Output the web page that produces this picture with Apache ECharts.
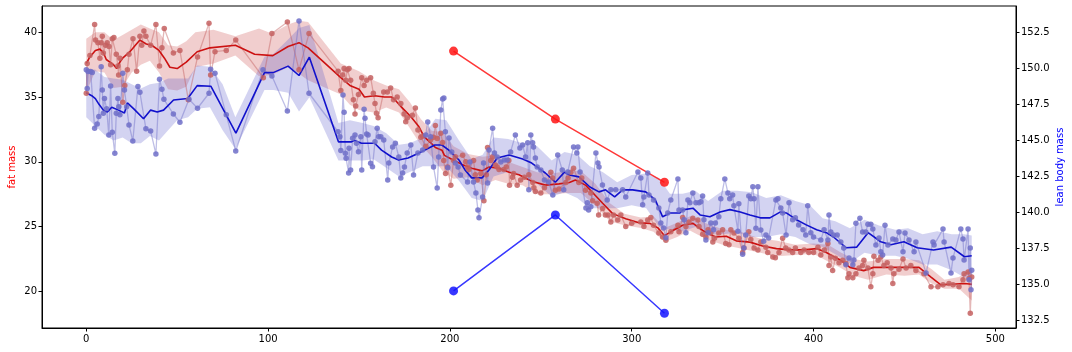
<!DOCTYPE html>
<html><head><meta charset="utf-8">
<script src="https://cdn.jsdelivr.net/npm/echarts@6/dist/echarts.min.js"></script>
<style>html,body{margin:0;padding:0;background:#fff}#c{width:1072px;height:352px}</style>
</head><body><div id="c"></div>
<script>
// ---- data: [day, value] ----
const fatRaw = [[0,35.3],[0.5,37.6],[2,38.2],[4.6,40.6],[5.1,39.4],[6.4,39.2],[7.5,38.0],[8.2,39.2],[8.8,39.7],[9.4,38.4],[10.6,39.0],[11.5,39.2],[12.5,38.9],[13.4,37.5],[14.3,39.5],[15.2,39.6],[16.5,38.3],[17.4,37.4],[17.8,36.7],[18.5,38.0],[20.1,34.6],[21.2,35.9],[22.6,37.1],[23.5,38.3],[25.7,39.5],[27.7,37.0],[29.5,39.7],[30.5,39.0],[31.7,40.1],[32.8,39.7],[35.4,39.0],[38.3,40.6],[40.3,37.4],[41.6,38.8],[42.9,40.3],[47.9,38.4],[51.5,38.6],[56.1,34.8],[61.2,38.1],[67.5,40.7],[68.4,36.7],[70.8,38.5],[77,38.6],[82.2,39.4],[97.4,36.5],[102.1,39.9],[110.6,40.8],[117,37.1],[122.5,39.9],[138.5,37.0],[140,35.5],[140.9,36.7],[141.8,37.2],[142.7,36.3],[143.6,37.1],[144.5,37.2],[145.4,36.3],[146.9,34.8],[147.8,33.7],[148.2,34.3],[149.7,35.2],[151.5,36.5],[152.8,35.9],[154.2,36.3],[156.4,36.5],[157.9,35.3],[158.8,34.5],[159.6,33.75],[160.5,33.4],[163.6,35.4],[165.6,35.4],[167.4,35.7],[169,34.8],[171,35.0],[173,34.5],[174.8,33.7],[175.7,33.1],[176.6,33.4],[179.4,33.6],[181,34.15],[182.4,32.45],[184,31.9],[185,32.0],[186.8,31.2],[189.4,31.7],[191,31.9],[192,32.8],[193,31.8],[195,32.2],[196,31.5],[196.6,30.1],[197.6,29.1],[198.7,29.6],[200.5,28.2],[202,30.1],[203,30.4],[207,30.5],[208.7,30.0],[209.7,29.6],[210.4,29.4],[213,30.1],[214,29.0],[215,28.6],[217,29.1],[218.7,27.0],[220,29.0],[220.7,31.1],[222.5,30.1],[223.5,30.4],[225,29.75],[226,29.6],[227,29.4],[229.6,29.4],[231,29.6],[232.4,30.1],[232.8,28.2],[234.4,28.8],[235,29.1],[237,28.2],[238.9,28.6],[241,28.8],[243.4,29.0],[245.6,28.4],[246.2,28.0],[247,27.7],[250,27.6],[252,28.0],[255.5,29.2],[256.5,28.75],[258,27.8],[260,27.9],[263.8,28.4],[265,28.75],[266.5,29.2],[268,29.5],[270.9,28.4],[272.5,28.75],[274.6,27.8],[277.5,27.6],[278.5,27.0],[281,26.8],[281.8,25.9],[284,26.4],[285.5,25.9],[287,25.9],[288.5,25.35],[290,25.9],[292.3,25.5],[294,25.9],[296.7,25.0],[300,25.25],[305,25.35],[306.7,25.0],[308.8,25.5],[310.5,25.7],[312,25.1],[314.9,24.5],[317,24.2],[318.8,23.95],[321.5,24.6],[325.4,25.1],[326,24.6],[328,25.7],[329.8,25.0],[331.5,25.35],[333.6,25.65],[336.4,25.5],[337,25.0],[339,24.4],[340.8,24.2],[342,24.75],[343.5,24.5],[344.6,23.8],[345.5,24.1],[347.9,24.5],[350,24.75],[351.7,23.7],[353.5,23.6],[354.5,24.75],[356.2,24.5],[358.9,24.1],[361,23.0],[361.7,23.35],[364.4,24.6],[365.5,24.0],[367.3,23.35],[369.4,23.2],[371,23.8],[373.8,23.4],[374.8,23.0],[377.6,22.65],[379,22.6],[381,23.0],[383,24.1],[384.7,23.35],[386.5,23.2],[388.5,23.0],[390,23.35],[393,23.0],[394.8,23.2],[397.4,23.0],[400,23.0],[402.4,23.4],[404,22.8],[406,23.2],[407.9,23.7],[408.5,22.0],[409.5,22.65],[410.5,21.6],[412,22.55],[414,22.2],[416,22.4],[417.8,22.15],[418.9,21.05],[419.5,21.35],[421.6,21.05],[423.3,21.35],[425,21.8],[427,22.0],[427.7,22.4],[429.9,21.8],[431.5,20.35],[432.6,21.35],[433.2,22.7],[435.5,22.4],[437,22.65],[438.7,22.0],[440.5,22.2],[442.6,21.8],[443.6,20.6],[444.2,21.35],[447,21.7],[449.2,22.5],[450.9,21.8],[453.5,22.0],[456.3,21.6],[460.7,21.35],[464.6,20.35],[468.4,20.35],[471.2,20.5],[474.5,20.6],[476.7,20.5],[480,20.35],[482.2,20.9],[482.8,21.35],[485,21.5],[485.5,21.0],[486.2,18.3],[487,21.1]];

const leanRaw = [[0,149.9],[0.5,148.6],[1,149.77],[2.4,149.77],[3.3,149.7],[4.6,145.84],[6,146.14],[6.9,146.65],[8.2,150.1],[8.8,148.5],[9.4,146.88],[10,147.9],[11.2,147.2],[12.4,145.38],[13.4,148.78],[14.3,145.57],[15.7,144.1],[16.5,146.88],[17.4,147.9],[17.9,147.34],[18.5,146.77],[20.1,149.66],[21,148.5],[22.2,147.34],[23.5,146.07],[25.6,144.96],[28.4,148.73],[29.5,148.34],[32.8,145.8],[35.4,145.65],[38.3,144.06],[40.3,149.24],[41.6,148.55],[42.7,147.85],[47.9,146.83],[51.5,146.26],[56.5,147.85],[61.2,147.23],[67.5,148.27],[68.4,149.93],[70.8,149.66],[77,146.77],[82.2,144.27],[97.2,149.9],[102.1,149.47],[110.6,147.04],[117,153.28],[122.5,148.27],[138.5,145.6],[139.5,145.26],[140,144.3],[141.2,148.15],[141.8,146.95],[142.5,144.1],[142.9,143.76],[144.3,142.74],[144.5,144.46],[145.4,142.95],[146.5,145.15],[147.8,145.38],[148.6,144.8],[149.7,144.22],[151,145.26],[151.5,142.95],[152.8,147.16],[153.3,146.54],[154.2,145.45],[155,145.38],[156.4,143.42],[157.4,143.18],[158.8,144.9],[160,145.85],[160.8,145.26],[162,145.26],[163.6,145.03],[165.8,142.26],[166.4,143.43],[168.5,144.55],[170,144.8],[171.9,143.85],[173,142.4],[174,142.74],[175,143.16],[176.5,144.13],[178.5,144.68],[180,142.6],[182.4,144.13],[185,144.34],[186.7,145.38],[187.8,146.28],[189.4,145.26],[191,143.16],[193,141.7],[193.8,143.85],[195,147.1],[196,147.87],[196.7,147.94],[197.5,145.6],[198.8,143.1],[199.5,145.17],[201,144.2],[203,143.43],[204.5,143.16],[205.8,142.6],[209.7,142.12],[211,143.5],[213,142.12],[214.3,141.36],[215.4,140.18],[216,139.63],[218,141.08],[218.5,143.43],[220.7,142.05],[221.5,144.34],[223.5,145.85],[224.5,144.13],[226,143.85],[228,143.5],[230,143.64],[231.5,143.64],[233.4,144.2],[236,145.38],[238.5,144.48],[240,144.68],[241.6,143.85],[242.8,144.83],[243.4,141.57],[244.5,145.38],[245.5,144.83],[246,144.55],[247,143.78],[248,143.16],[250,142.95],[252,142.26],[254.3,142.12],[256.6,141.22],[259.3,143.99],[261.8,142.95],[262.6,141.57],[264.8,142.81],[268,144.55],[269.8,144.13],[270.4,144.55],[271.6,142.81],[274.8,140.32],[275.6,140.67],[276.3,140.18],[277.5,140.39],[280.3,144.13],[281.4,143.43],[282,143.16],[283.9,141.91],[286.5,140.87],[288.5,141.57],[291.2,141.57],[295,141.57],[296.7,141.08],[303.4,142.81],[305,142.4],[306,140.53],[306.7,141.08],[308.8,142.74],[309.5,141.22],[312,140.87],[314.9,140.32],[316,139.28],[317.5,138.93],[318.8,138.24],[319.8,139.97],[321.5,140.87],[325.4,142.33],[326,140.18],[328,140.18],[328.8,139.5],[329.8,138.6],[330.9,140.87],[332,140.67],[333.6,141.36],[335.3,140.67],[337,140.67],[338,140.74],[339,141.15],[339.7,139.5],[340.8,138.1],[342,138.6],[343.5,139.28],[345,138.8],[346,139.28],[347.9,139.7],[349,140.95],[351.2,142.33],[352.9,141.36],[353.9,140.95],[355.5,141.22],[356.2,140.46],[358.4,138.7],[358.9,140.6],[361,137.1],[361.7,137.54],[362.7,138.44],[364.4,141.15],[365.5,140.95],[366.6,141.78],[367.3,140.95],[368.3,138.9],[369.4,141.78],[371,138.78],[372.6,138.0],[373.8,138.44],[375.3,138.23],[379.3,140.87],[380.4,140.95],[382,140.32],[383,139.97],[384.9,138.44],[386.5,140.67],[388.5,139.5],[390,139.63],[391.8,139.14],[394.2,138.8],[395.7,138.44],[396.8,140.46],[398.5,138.6],[400,138.3],[404,138.1],[405.8,138.8],[407.9,138.1],[408.5,139.83],[409.5,138.64],[411,138.44],[413,138.44],[415,137.96],[416.6,137.54],[417.8,136.37],[419.5,136.85],[421.6,136.37],[422.2,136.7],[423.3,139.26],[425.5,139.6],[427,138.64],[428.7,138.64],[429.9,139.19],[431.5,139.19],[432.6,138.85],[434.3,137.75],[436,138.23],[437,137.27],[438,137.06],[439.3,139.12],[440.9,137.75],[443.6,138.16],[445.3,138.1],[447,138.64],[449.2,137.27],[450.3,138.57],[452.5,138.1],[455.3,137.27],[456.3,137.96],[461.9,135.81],[465.7,137.96],[466.3,137.75],[471.2,138.85],[471.8,137.96],[475.6,135.81],[476.7,136.85],[481,138.85],[482.2,138.16],[482.8,136.7],[485,138.85],[485.5,135.34],[486.2,137.54],[486.6,134.64],[487,136.0]];

const fatMean = [[0,37.6],[2,38.1],[5,38.6],[7.5,38.7],[9.5,38.4],[11,37.9],[13,37.7],[15,37.5],[16.7,37.2],[18,37.6],[20,38.0],[24,38.5],[27,39.0],[29.5,39.4],[33,39.1],[36,39.0],[40,38.6],[43,38.0],[46,37.3],[50,37.2],[55,37.7],[61,38.5],[68,38.8],[82,39.0],[92.6,38.3],[102.6,38.2],[111,38.9],[117,39.2],[122,38.8],[140,36.5],[145,35.9],[150,35.6],[153,35.0],[158.6,35.1],[164,35.0],[168,35.0],[170,34.75],[173.5,34.2],[177,33.7],[179,33.4],[183,32.7],[184.5,32.3],[186,31.9],[190,31.4],[192,31.1],[195.6,30.9],[197,30.5],[201,30.2],[206.6,29.8],[212,29.5],[217.7,29.3],[221.5,29.6],[227,29.5],[232.6,29.2],[238,29.0],[245,28.5],[252.5,28.2],[260,28.3],[265.7,28.4],[269,28.6],[274.6,28.2],[280,27.4],[284,26.8],[289.5,26.0],[296.7,25.6],[304,25.3],[310,25.25],[314.4,24.9],[318,24.3],[322.7,24.7],[328,25.1],[333.7,25.25],[339,24.7],[346,24.2],[352,24.25],[357.5,23.9],[365,23.8],[372,23.5],[379.6,23.3],[387,23.2],[394.5,23.2],[401.7,23.3],[407,23.0],[411,22.7],[415,22.4],[420,21.85],[427.6,21.6],[433,21.85],[438.7,21.85],[448,21.85],[458,21.85],[464.6,21.1],[470,20.5],[475.7,20.55],[483,20.6],[487,20.55]];

const leanMean = [[0,148.3],[3,148.1],[5,147.9],[7,147.5],[9.4,147.1],[11.6,146.97],[14,147.3],[17.7,147.1],[21,146.9],[22.6,147.6],[26,147.2],[31.5,146.5],[35.4,147.1],[39,146.97],[42.5,147.1],[48,147.8],[55.8,147.9],[61,148.8],[68.5,148.76],[82.3,145.5],[98,149.7],[102.8,149.7],[111,150.15],[117,149.5],[122.7,150.77],[138.7,144.9],[145.9,144.9],[147.5,145.0],[151.4,144.8],[158.6,144.8],[162.4,144.33],[168,143.85],[171.8,143.64],[177,143.78],[183,144.13],[188.4,144.47],[191.7,144.68],[195.6,144.68],[199.4,144.33],[205,143.64],[208.3,142.95],[212,142.4],[217.7,142.4],[221.5,142.95],[226,143.78],[232.6,143.99],[240,143.71],[245,143.43],[252.5,142.74],[258,142.1],[263,142.8],[265.7,142.6],[271,142.47],[277,141.77],[282,141.43],[285.6,141.57],[290.6,141.08],[295,141.57],[300.5,141.57],[307.7,141.43],[313,140.87],[317,139.7],[321,139.97],[326.5,139.97],[328,140.18],[333.7,140.3],[337.6,139.83],[343,139.7],[348.6,140.04],[354,140.2],[359.7,140.04],[365,139.83],[370.7,139.63],[376,139.63],[381.8,140.04],[385,139.97],[390.6,139.5],[396,139.14],[401.7,138.8],[407,138.6],[411,138.3],[418,137.55],[423.8,137.6],[430,138.6],[437,137.97],[442.5,137.76],[449.7,137.97],[457,137.55],[466,137.4],[475.7,137.6],[483,136.93],[487,137.0]];

// [day, lower, upper]
const fatBand = [[0,35.4,39.5],[5,37.0,40.0],[10,36.9,40.0],[15,35.7,39.4],[20,35.8,39.8],[25,36.9,40.2],[30,37.5,40.6],[35,37.8,40.3],[40,36.9,40.0],[45,35.6,39.0],[50,35.5,38.9],[55,35.8,39.3],[60,37.3,40.0],[70,37.6,40.2],[82,38.2,39.7],[95,36.6,40.3],[102,36.7,39.9],[111,37.3,40.6],[117,36.8,40.9],[122,36.3,40.8],[140,35.2,37.6],[145,34.4,37.3],[150,34.0,37.0],[158,33.8,36.3],[165,34.2,35.9],[172,33.8,35.6],[178,32.6,34.6],[184,31.3,33.3],[190,30.4,32.4],[196,29.3,32.3],[202,28.7,31.2],[210,28.8,30.6],[218,28.2,30.4],[225,28.6,30.5],[232,28.3,30.0],[240,28.2,29.6],[248,27.5,29.2],[256,27.5,29.1],[265,27.6,29.3],[272,27.6,29.3],[280,26.6,28.3],[288,25.4,26.8],[296,25.1,26.0],[305,24.9,25.7],[312,24.6,25.8],[318,23.8,24.9],[325,24.2,25.3],[332,24.7,25.8],[340,24.1,25.3],[350,23.6,24.8],[360,23.3,24.6],[370,23.0,24.1],[380,22.7,23.9],[390,22.8,23.6],[400,22.9,23.7],[408,22.3,23.6],[415,21.8,23.0],[422,21.2,22.5],[430,20.9,22.3],[440,21.3,22.5],[450,21.2,22.5],[458,21.3,22.4],[465,20.6,21.7],[472,20.2,20.9],[480,20.2,21.1],[487,19.3,21.8]];

const leanBand = [[0,146.6,150.0],[5,146.0,149.9],[10,145.4,149.4],[15,145.0,149.3],[20,145.2,149.2],[25,144.8,148.9],[30,144.8,148.6],[35,145.3,148.9],[40,145.0,149.0],[45,145.7,149.3],[50,146.4,149.3],[56,146.6,149.3],[61,147.2,150.2],[68,147.3,150.1],[75,145.7,148.9],[82,144.4,146.6],[98,148.5,150.8],[103,148.5,151.0],[111,148.3,152.0],[117,147.0,152.8],[122.7,148.0,153.0],[138.7,143.6,146.2],[145,143.6,146.4],[152,143.6,146.2],[158,143.7,146.0],[165,143.1,145.5],[172,142.5,144.7],[178,142.8,144.8],[185,143.2,145.2],[192,143.2,146.5],[198,143.2,146.4],[205,142.2,145.0],[212,141.0,143.7],[218,140.8,144.0],[224,142.5,145.2],[232,142.8,145.1],[240,142.6,144.8],[248,142.0,144.6],[256,141.1,143.6],[263,141.4,144.2],[270,141.0,144.0],[277,140.3,143.2],[284,140.3,142.8],[292,140.3,142.1],[300,140.5,142.6],[308,140.3,142.7],[315,139.0,142.4],[321,138.8,141.3],[328,138.7,141.3],[335,139.0,141.5],[342,138.5,140.8],[350,138.5,141.5],[358,138.6,141.5],[366,138.3,141.4],[374,138.3,141.0],[382,138.5,141.2],[390,138.3,140.8],[398,137.8,140.5],[405,137.6,139.6],[412,137.1,139.4],[420,136.5,138.9],[428,137.2,139.5],[436,137.0,139.1],[445,137.0,138.8],[452,136.8,138.9],[460,136.4,138.5],[468,136.4,138.7],[476,136.0,138.5],[483,135.5,138.5],[487,135.5,138.4]];

const highlightFat = [[202,38.55],[258,33.3],[318,28.42]];
const highlightLean = [[202,134.56],[258,139.83],[318,133.01]];

const xTicks = [0,100,200,300,400,500];
const fatTicks = [20,25,30,35,40];
const leanTicks = [132.5,135,137.5,140,142.5,145,147.5,150,152.5];

function band(name, data, yAxisIndex, color) {
  return {
    type: 'custom', name: name, yAxisIndex: yAxisIndex, silent: true, clip: true,
    data: data, encode: {x: 0, y: [1, 2]},
    renderItem: function (params, api) {
      if (params.dataIndex !== 0) return null;
      const pts = [];
      for (const b of data) pts.push(api.coord([b[0], b[2]]));
      for (let i = data.length - 1; i >= 0; i--) pts.push(api.coord([data[i][0], data[i][1]]));
      return {type: 'polygon', shape: {points: pts}, style: {fill: color}};
    }
  };
}
function raw(name, data, yAxisIndex, ptColor, lnColor) {
  return {type: 'line', name: name, yAxisIndex: yAxisIndex, data: data, symbol: 'circle', symbolSize: 5.5,
    showSymbol: true, itemStyle: {color: ptColor}, lineStyle: {color: lnColor, width: 1.3}, silent: true};
}
function meanLine(name, data, yAxisIndex, color) {
  return {type: 'line', name: name, yAxisIndex: yAxisIndex, data: data, symbol: 'none',
    lineStyle: {color: color, width: 1.6}, silent: true};
}
function hl(name, data, yAxisIndex, color) {
  return {type: 'line', name: name, yAxisIndex: yAxisIndex, data: data, symbol: 'circle', symbolSize: 9,
    itemStyle: {color: color}, lineStyle: {color: color, width: 1.5}, silent: true};
}

const font = {fontFamily: 'DejaVu Sans', fontSize: 10, color: '#000'};
const chart = echarts.init(document.getElementById('c'), null, {renderer: 'canvas'});
chart.setOption({
  animation: false,
  backgroundColor: '#fff',
  grid: {left: 42, right: 56, top: 6, bottom: 24, outerBoundsMode: 'none', containLabel: false,
    show: true, borderColor: '#000', borderWidth: 1, backgroundColor: 'transparent'},
  xAxis: {type: 'value', min: -24.35, max: 511.35,
    axisLine: {show: true, onZero: false, lineStyle: {color: '#000', width: 1}},
    axisTick: {show: true, length: 3.5, lineStyle: {color: '#000'}, customValues: xTicks},
    axisLabel: Object.assign({margin: 6, customValues: xTicks}, font),
    splitLine: {show: false}},
  yAxis: [
    {type: 'value', position: 'left', min: 17.17, max: 42.03,
      name: 'fat mass', nameLocation: 'middle', nameRotate: 90, nameGap: 25, nameMoveOverlap: false,
      nameTextStyle: {color: '#ff0000', fontFamily: 'DejaVu Sans', fontSize: 10},
      axisLine: {show: true, onZero: false, lineStyle: {color: '#000'}},
      axisTick: {show: true, length: 3.5, lineStyle: {color: '#000'}, customValues: fatTicks},
      axisLabel: Object.assign({margin: 5, customValues: fatTicks}, font),
      splitLine: {show: false}},
    {type: 'value', position: 'right', min: 131.99, max: 154.32,
      name: 'lean body mass', nameLocation: 'middle', nameRotate: 90, nameGap: 39, nameMoveOverlap: false,
      nameTextStyle: {color: '#0000ff', fontFamily: 'DejaVu Sans', fontSize: 10},
      axisLine: {show: true, onZero: false, lineStyle: {color: '#000'}},
      axisTick: {show: true, length: 3.5, lineStyle: {color: '#000'}, customValues: leanTicks},
      axisLabel: Object.assign({margin: 5, customValues: leanTicks, formatter: v => v.toFixed(1)}, font),
      splitLine: {show: false}}
  ],
  series: [
    band('fat band', fatBand, 0, 'rgba(200,60,60,0.25)'),
    raw('fat mass', fatRaw, 0, 'rgba(196,96,96,0.85)', 'rgba(196,96,96,0.45)'),
    meanLine('fat mean', fatMean, 0, '#cc1111'),
    hl('fat highlight', highlightFat, 0, 'rgba(255,20,20,0.85)'),
    band('lean band', leanBand, 1, 'rgba(80,80,200,0.25)'),
    raw('lean body mass', leanRaw, 1, 'rgba(110,110,200,0.85)', 'rgba(110,110,200,0.45)'),
    meanLine('lean mean', leanMean, 1, '#1111cc'),
    hl('lean highlight', highlightLean, 1, 'rgba(20,20,255,0.85)')
  ]
});
</script>
</body></html>
